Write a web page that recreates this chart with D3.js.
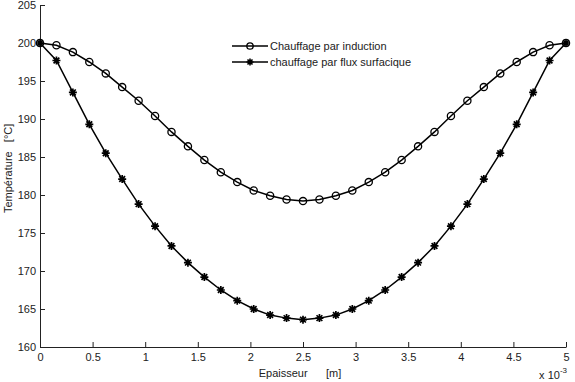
<!DOCTYPE html>
<html>
<head>
<meta charset="utf-8">
<script src="https://cdn.jsdelivr.net/npm/d3@7"></script>
<style>
  body { margin: 0; background: #fff; }
  svg { display: block; font-family: "Liberation Sans", Arial, sans-serif; }
  .axis text { font-size: 11px; fill: #222; }
  .axis path, .axis line { stroke: #222; }
</style>
</head>
<body>
<svg id="chart"></svg>
<script>
// Epaisseur (x 10^-3 m), 33 points across the plate
const positions = d3.range(33).map((i) => i * 5 / 32);

// Chauffage par induction (first half, curve is symmetric)
const inductionHalf = [200, 199.7, 198.8, 197.5, 196.0, 194.2, 192.4, 190.4, 188.3,
  186.4, 184.6, 183.0, 181.7, 180.6, 179.9, 179.4, 179.2];
// chauffage par flux surfacique
const fluxHalf = [200, 197.7, 193.5, 189.3, 185.5, 182.1, 178.8, 175.9, 173.3,
  171.1, 169.2, 167.5, 166.1, 165.0, 164.2, 163.8, 163.6];

const mirror = (half) => half.concat(half.slice(0, -1).reverse());
const induction = mirror(inductionHalf);
const flux = mirror(fluxHalf);

const xTicks = d3.range(0, 5.01, 0.5);
const yTicks = d3.range(160, 205.1, 5);
const legendLabels = ['Chauffage par induction', 'chauffage par flux surfacique'];

const config = {
  width: 575,
  height: 382,
  margin: { top: 5, right: 9, bottom: 35, left: 40 },
};

const innerW = config.width - config.margin.left - config.margin.right;
const innerH = config.height - config.margin.top - config.margin.bottom;

const svg = d3.select('#chart')
  .attr('width', config.width)
  .attr('height', config.height);

const chart = svg.append('g')
  .attr('transform', `translate(${config.margin.left},${config.margin.top})`);

const xScale = d3.scaleLinear().domain([0, 5]).range([0, innerW]);
const yScale = d3.scaleLinear().domain([160, 205]).range([innerH, 0]);

// Axes, MATLAB style: ticks point inward
const xAxis = d3.axisBottom(xScale)
  .tickValues(xTicks)
  .tickSize(-5)
  .tickSizeOuter(0)
  .tickPadding(6)
  .tickFormat(d3.format('~g'));

const yAxis = d3.axisLeft(yScale)
  .tickValues(yTicks)
  .tickSize(-5)
  .tickSizeOuter(0)
  .tickPadding(4)
  .tickFormat(d3.format('d'));

chart.append('g')
  .attr('class', 'axis x-axis')
  .attr('transform', `translate(0,${innerH})`)
  .call(xAxis);

chart.append('g')
  .attr('class', 'axis y-axis')
  .call(yAxis);

// Axis titles
chart.append('text')
  .attr('x', xScale(2.5) - 3)
  .attr('y', innerH + 30)
  .attr('text-anchor', 'middle')
  .attr('font-size', 11)
  .attr('fill', '#222')
  .attr('xml:space', 'preserve')
  .text('Epaisseur      [m]');

svg.append('text')
  .attr('transform', `translate(12,${config.margin.top + yScale(183.5)}) rotate(-90)`)
  .attr('text-anchor', 'middle')
  .attr('font-size', 11)
  .attr('fill', '#222')
  .attr('xml:space', 'preserve')
  .text('Température   [°C]');

const expo = chart.append('text')
  .attr('x', xScale(5) + 1)
  .attr('y', innerH + 32)
  .attr('text-anchor', 'end')
  .attr('font-size', 11)
  .attr('fill', '#222');
expo.append('tspan').text('x 10');
expo.append('tspan').attr('dy', -6).attr('font-size', 8).text('-3');

// Lines
const line = d3.line()
  .x((d, i) => xScale(positions[i]))
  .y((d) => yScale(d));

const marks = chart.append('g');

marks.append('path')
  .datum(induction)
  .attr('fill', 'none')
  .attr('stroke', '#000')
  .attr('stroke-width', 1.5)
  .attr('d', line);

marks.append('path')
  .datum(flux)
  .attr('fill', 'none')
  .attr('stroke', '#000')
  .attr('stroke-width', 1.5)
  .attr('d', line);

// Circle markers
marks.selectAll('.point-ind')
  .data(induction)
  .join('circle')
  .attr('class', 'point-ind')
  .attr('cx', (d, i) => xScale(positions[i]))
  .attr('cy', (d) => yScale(d))
  .attr('r', 3.6)
  .attr('fill', 'none')
  .attr('stroke', '#000')
  .attr('stroke-width', 1.3);

// Star markers
const starPath = (s) => {
  const d = s * 0.72;
  return `M${-s},0L${s},0M0,${-s}L0,${s}M${-d},${-d}L${d},${d}M${-d},${d}L${d},${-d}`;
};

marks.selectAll('.point-flux')
  .data(flux)
  .join('path')
  .attr('class', 'point-flux')
  .attr('transform', (d, i) => `translate(${xScale(positions[i])},${yScale(d)})`)
  .attr('d', starPath(4))
  .attr('fill', 'none')
  .attr('stroke', '#000')
  .attr('stroke-width', 1.7);

// Legend
const legend = svg.append('g').attr('transform', 'translate(232,46)');
legendLabels.forEach((label, i) => {
  const g = legend.append('g').attr('transform', `translate(0,${i * 16})`);
  g.append('line')
    .attr('x1', 0).attr('x2', 36)
    .attr('stroke', '#000').attr('stroke-width', 1.5);
  if (i === 0) {
    g.append('circle').attr('cx', 18).attr('r', 3.2)
      .attr('fill', 'none').attr('stroke', '#000').attr('stroke-width', 1.3);
  } else {
    g.append('path').attr('transform', 'translate(18,0)')
      .attr('d', starPath(3.5)).attr('stroke', '#000').attr('stroke-width', 1.6);
  }
  g.append('text')
    .attr('x', 38).attr('y', 4)
    .attr('font-size', 11)
    .attr('fill', '#222')
    .text(label);
});
</script>
</body>
</html>
